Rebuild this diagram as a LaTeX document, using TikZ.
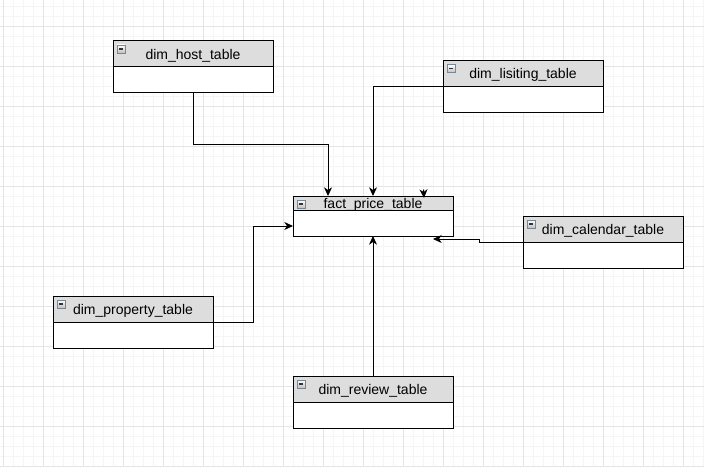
\documentclass[tikz,border=0pt]{standalone}
\usepackage{fontspec}
\setmainfont{Liberation Sans}
\usetikzlibrary{positioning,arrows.meta}
\definecolor{hdrgray}{RGB}{221,221,221}
\definecolor{icongray}{RGB}{120,135,150}

\begin{document}
\begin{tikzpicture}[x=0.75pt, y=-0.75pt, >={Stealth[length=6.5pt,width=6pt,inset=2pt]},
    every node/.style={font=\fontsize{10.5}{12}\selectfont},
    tablehead/.style={draw, line width=0.75pt, fill=hdrgray, minimum width=120pt, minimum height=19.5pt,
      inner sep=0pt, outer sep=0pt, text height=9pt, text depth=1pt},
    tablebody/.style={draw, line width=0.75pt, fill=white, minimum width=120pt, minimum height=19.5pt,
      inner sep=0pt, outer sep=0pt},
    iconbox/.style={draw=icongray, line width=0.6pt, top color=white, bottom color=gray!50},
    conn/.style={->, line width=0.75pt},
    minorgrid/.style={draw=gray!8, line width=0.75pt},
    majorgrid/.style={draw=gray!20, line width=0.75pt}]
  \useasboundingbox (0,0) rectangle (704,467);
  \fill[white] (0,0) rectangle (704,467);

  % grid
  \foreach \gx in {0,...,70} \draw[minorgrid] (3.3+10*\gx,0) -- (3.3+10*\gx,467);
  \foreach \gy in {0,...,46} \draw[minorgrid] (0,6.7+10*\gy) -- (704,6.7+10*\gy);
  \foreach \gx in {0,...,17} \draw[majorgrid] (3.3+40*\gx,0) -- (3.3+40*\gx,467);
  \foreach \gy in {0,...,11} \draw[majorgrid] (0,26.7+40*\gy) -- (704,26.7+40*\gy);

  % tables
  \node[tablehead] (hosthead) at (193,54) {dim\_host\_table};
  \node[tablebody, below=0pt of hosthead] (hostbody) {};
  \node[tablehead] (lishead) at (523,73.5) {dim\_lisiting\_table};
  \node[tablebody, below=0pt of lishead] (lisbody) {};
  \node[tablehead, minimum height=10.5pt] (facthead) at (373,203) {fact\_price\_table};
  \node[tablebody, below=0pt of facthead] (factbody) {};
  \node[tablehead] (calhead) at (603,229) {dim\_calendar\_table};
  \node[tablebody, below=0pt of calhead] (calbody) {};
  \node[tablehead] (prophead) at (133,309) {dim\_property\_table};
  \node[tablebody, below=0pt of prophead] (propbody) {};
  \node[tablehead] (revhead) at (373,389) {dim\_review\_table};
  \node[tablebody, below=0pt of revhead] (revbody) {};

  \foreach \tbl in {hosthead,lishead,facthead,calhead,prophead,revhead} {
    \draw[iconbox] ([shift={(4,4)}]\tbl.north west) rectangle ++(8,8);
    \draw[line width=0.9pt, black!80] ([shift={(6,8)}]\tbl.north west) -- ++(4,0);
  }

  % links
  \draw[conn] (hostbody.south) -- ++(0,52) -| ([xshift=-33.75pt]facthead.north);
  \draw[conn] (lisbody.north west) -| (facthead.north);
  \draw[conn] (calbody.north west) -- ++(-44,0) -- ++(0,-3) -- ([xshift=-15pt,yshift=-2.25pt]factbody.south east);
  \draw[conn] (propbody.north east) -- ++(40,0) |- ([yshift=-2.25pt]factbody.west);
  \draw[conn] (revhead.north) -- (factbody.south);
  \coordinate (stray) at (423.5,189.5);
  \draw[conn] (stray) -- ++(0.5,8.5);
\end{tikzpicture}
\end{document}
